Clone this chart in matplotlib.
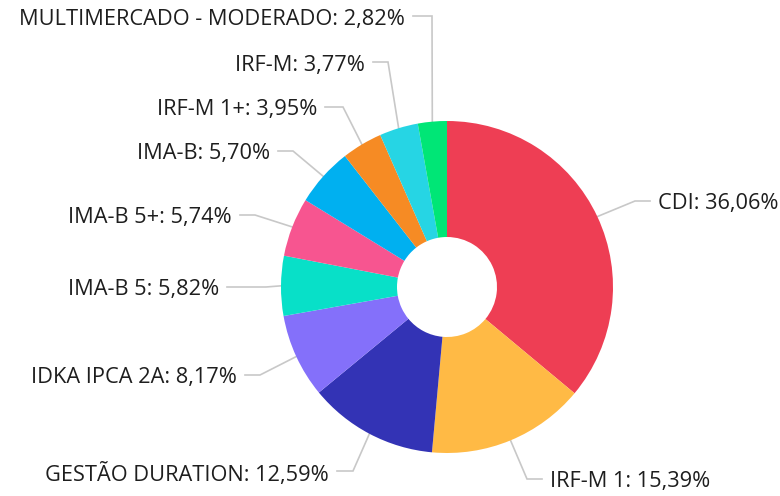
import numpy as np
import matplotlib.pyplot as plt

plt.rcParams['font.family'] = ['Open Sans', 'DejaVu Sans']

# data
names = ['CDI', 'IRF-M 1', 'GESTÃO DURATION', 'IDKA IPCA 2A', 'IMA-B 5',
         'IMA-B 5+', 'IMA-B', 'IRF-M 1+', 'IRF-M', 'MULTIMERCADO - MODERADO']
values = [36.06, 15.39, 12.59, 8.17, 5.82, 5.74, 5.70, 3.95, 3.77, 2.82]
colors = ['#ee3e54', '#ffba45', '#3333b5', '#8470fa', '#08e0c8',
          '#f75590', '#00b0f0', '#f68b24', '#26d5e4', '#00e676']

# label layout (pixels, y measured from top)
bend_x = [635, 527, 353, 260, 266, 255, 293, 343, 388, 432]
bend_y = [201, 479, 471, 375, 287, 215, 151, 107, 62, 16]
end_x = [650, 542, 337, 245, 227, 240, 278, 325, 373, 413]

W, H = 780, 496
cx, cy, R, r_in = 447, H - 287, 166, 50

fig = plt.figure(figsize=(W / 100, H / 100), dpi=100)
ax = fig.add_axes([0, 0, 1, 1])

wedges, _ = ax.pie(values, colors=colors, startangle=90, counterclock=False,
                   center=(cx, cy), radius=R,
                   wedgeprops={'width': R - r_in, 'linewidth': 0})

ax.set_xlim(0, W)
ax.set_ylim(0, H)
ax.set_aspect('auto')
ax.axis('off')

for i, w in enumerate(wedges):
    ang = np.deg2rad((w.theta1 + w.theta2) / 2)
    x0 = cx + R * np.cos(ang)
    y0 = cy + R * np.sin(ang)
    bx, by, ex = bend_x[i], H - bend_y[i], end_x[i]
    ax.plot([x0, bx, ex], [y0, by, by], color='#c8c8c8', lw=1.2,
            solid_joinstyle='miter', zorder=0)
    label = '{}: {:.2f}%'.format(names[i], values[i]).replace('.', ',')
    if ex > bx:
        ax.text(ex + 8, by - 3, label, ha='left', va='center',
                fontsize=15.7, color='#1e1e1e')
    else:
        ax.text(ex - 8, by - 3, label, ha='right', va='center',
                fontsize=15.7, color='#1e1e1e')

fig.savefig('out.png', dpi=100)
